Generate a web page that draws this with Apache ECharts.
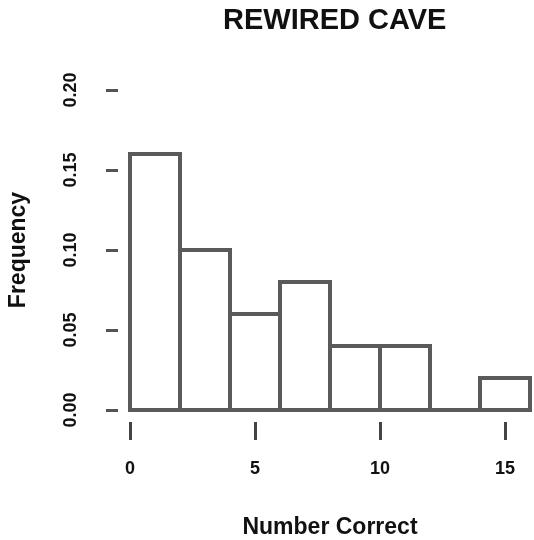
<!DOCTYPE html>
<html>
<head>
<meta charset="UTF-8">
<title>REWIRED CAVE</title>
<script src="https://cdn.jsdelivr.net/npm/echarts@6/dist/echarts.min.js"></script>
<style>
body{margin:0;background:#fff;}
#chart{width:534px;height:540px;}
</style>
</head>
<body>
<div id="chart"></div>
<script type="text/javascript">
// histogram bins (density), width 2
var binStart=[0,2,4,6,8,10,12,14];
var binEnd=[2,4,6,8,10,12,14,16];
var density=[0.16,0.10,0.06,0.08,0.04,0.04,0.00,0.02];
var xTicks=[0,5,10,15];
var yTicks=[0,0.05,0.10,0.15,0.20];

var data=[];
for(var i=0;i<binStart.length;i++){
	data.push([binStart[i],binEnd[i],density[i]]);
}

var mychart=echarts.init(document.getElementById('chart'));
var font='"Liberation Sans", Arial, sans-serif';

var option={
	animation:false,
	title:{
		text:'REWIRED CAVE',
		left:218,top:1,
		textStyle:{fontFamily:font,fontSize:29,fontWeight:'bold',color:'#111'}
	},
	grid:{left:130,top:90,width:400,height:320,outerBoundsMode:'none',containLabel:false},
	xAxis:{
		type:'value',min:0,max:16,interval:5,
		offset:12,
		name:'Number Correct',nameLocation:'middle',nameGap:94,
		nameTextStyle:{fontFamily:font,fontSize:23,fontWeight:'bold',color:'#111'},
		axisLine:{show:true,onZero:false,lineStyle:{opacity:0}},
		axisTick:{show:true,length:18,lineStyle:{color:'#444',width:3}},
		splitLine:{show:false},
		axisLabel:{
			margin:38,fontFamily:font,fontSize:18,fontWeight:'bold',color:'#111',
			showMaxLabel:false,
			formatter:function(v){return xTicks.indexOf(v)>=0?String(v):'';}
		}
	},
	yAxis:{
		type:'value',min:0,max:0.2,interval:0.05,
		offset:12,
		name:'Frequency',nameLocation:'middle',nameGap:88,
		nameTextStyle:{fontFamily:font,fontSize:23,fontWeight:'bold',color:'#111'},
		axisLine:{show:true,onZero:false,lineStyle:{opacity:0}},
		axisTick:{show:true,length:12,lineStyle:{color:'#555',width:3}},
		splitLine:{show:false},
		axisLabel:{
			margin:38,rotate:90,fontFamily:font,fontSize:18,fontWeight:'bold',color:'#111',
			formatter:function(v){return yTicks.indexOf(v)>=0?v.toFixed(2):'';}
		}
	},
	series:[{
		type:'custom',
		data:data,
		encode:{x:[0,1],y:2},
		renderItem:function(params,api){
			var p0=api.coord([api.value(0),api.value(2)]);
			var p1=api.coord([api.value(1),0]);
			return {
				type:'rect',
				shape:{x:p0[0],y:p0[1],width:p1[0]-p0[0],height:p1[1]-p0[1]},
				style:{fill:'none',stroke:'#5a5a5a',lineWidth:4}
			};
		}
	}]
};
mychart.setOption(option);
</script>
</body>
</html>
